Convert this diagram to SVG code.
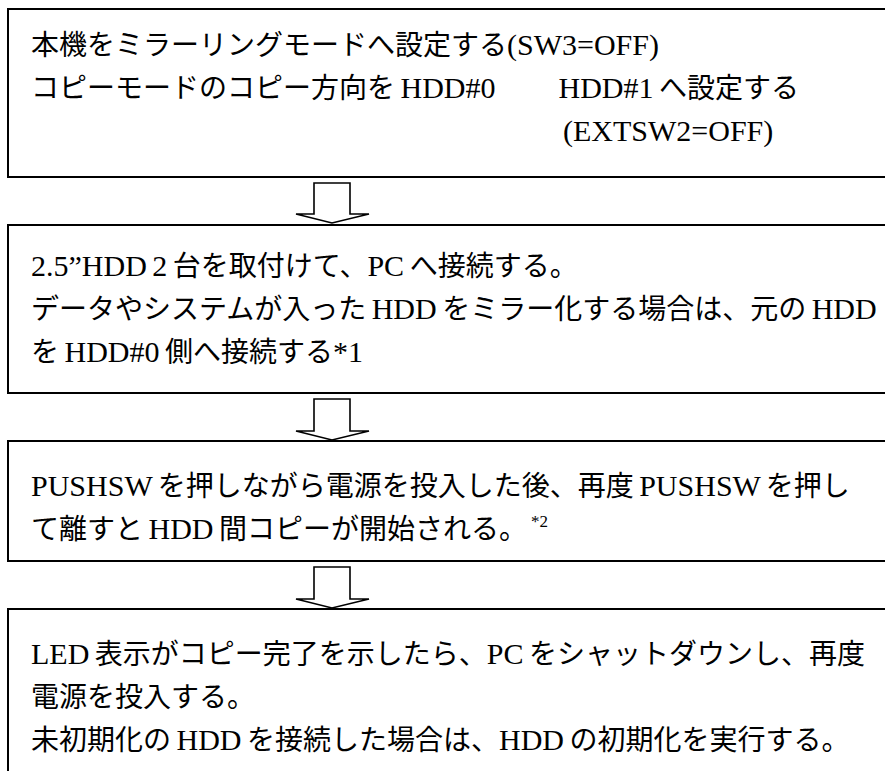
<svg xmlns="http://www.w3.org/2000/svg" width="885" height="771" viewBox="0 0 885 771">
<style>
.box{fill:#fff;stroke:#000;stroke-width:2}
.arr{fill:#fff;stroke:#000;stroke-width:1.6;stroke-linejoin:miter}
.j{font-family:"Noto Sans CJK JP",sans-serif;font-size:28px;fill:#000;word-spacing:-2px}
.l{font-family:"Liberation Serif","Noto Sans CJK JP",serif;font-size:30px}
.sup{font-family:"Liberation Serif","Noto Sans CJK JP",serif;font-size:17px}
</style>
<rect width="885" height="771" fill="#fff"/>
<g id="step1">
<rect class="box" x="8" y="9" width="900" height="168"/>
<text class="j" x="31" y="55">本機をミラーリングモードへ設定する<tspan class="l">(SW3=OFF)</tspan></text>
<text class="j" x="31" y="98">コピーモードのコピー方向を<tspan class="l"> HDD#0</tspan><tspan class="l" dx="63">HDD#1 </tspan>へ設定する</text>
<text class="j" x="563" y="141"><tspan class="l">(EXTSW2=OFF)</tspan></text>
</g>
<g id="step2">
<rect class="box" x="8" y="225" width="900" height="168"/>
<text class="j" x="31" y="276"><tspan class="l">2.5”HDD 2 </tspan>台を取付けて、<tspan class="l">PC </tspan>へ接続する。</text>
<text class="j" x="31" y="319">データやシステムが入った<tspan class="l"> HDD </tspan>をミラー化する場合は、元の<tspan class="l"> HDD</tspan></text>
<text class="j" x="31" y="362">を<tspan class="l"> HDD#0 </tspan>側へ接続する<tspan class="l">*1</tspan></text>
</g>
<g id="step3">
<rect class="box" x="8" y="441" width="900" height="120"/>
<text class="j" x="31" y="496"><tspan class="l">PUSHSW </tspan>を押しながら電源を投入した後、再度<tspan class="l"> PUSHSW </tspan>を押し</text>
<text class="j" x="31" y="539">て離すと<tspan class="l"> HDD </tspan>間コピーが開始される。<tspan class="sup" dx="4" dy="-12">*2</tspan></text>
</g>
<g id="step4">
<rect class="box" x="8" y="609" width="900" height="200"/>
<text class="j" x="31" y="664"><tspan class="l">LED </tspan>表示がコピー完了を示したら、<tspan class="l">PC </tspan>をシャットダウンし、再度</text>
<text class="j" x="31" y="707">電源を投入する。</text>
<text class="j" x="31" y="750">未初期化の<tspan class="l"> HDD </tspan>を接続した場合は、<tspan class="l">HDD </tspan>の初期化を実行する。</text>
</g>
<g id="connectors">
<polygon class="arr" points="314,183 350,183 350,214 369,214 332,223 296,214 314,214"/>
<polygon class="arr" points="314,399 350,399 350,431 369,431 332,440 296,431 314,431"/>
<polygon class="arr" points="314,567 350,567 350,599 369,599 332,608 296,599 314,599"/>
</g>
</svg>
